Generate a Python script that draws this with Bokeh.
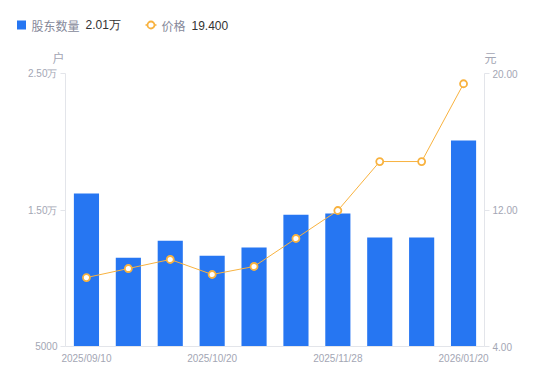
from bokeh.plotting import figure
from bokeh.models import (Range1d, LinearAxis, FixedTicker, Label, ColumnDataSource)
from bokeh.layouts import column
from bokeh.embed import file_html
from bokeh.resources import INLINE

dates = ["2025/09/10", "2025/09/19", "2025/09/30", "2025/10/20", "2025/10/31",
         "2025/11/10", "2025/11/28", "2025/12/10", "2025/12/31", "2026/01/20"]
holders = [16200, 11500, 12750, 11650, 12250, 14650, 14750, 12980, 12980, 20100]
prices = [8.04, 8.57, 9.10, 8.22, 8.69, 10.33, 11.97, 14.84, 14.84, 19.40]
left_ticks = [5000, 15000, 25000]
left_tick_labels = ["5000", "1.50万", "2.50万"]
right_ticks = [4, 12, 20]
right_tick_labels = ["4.00", "12.00", "20.00"]
shown_dates = [0, 3, 6, 9]
series_names = ["股东数量", "价格"]
units = ["户", "元"]

BAR = "#2676F2"
ORANGE = "#F8B23F"
TICK = "#A3A6B4"
AXIS = "#E3E5EA"
NAME = "#86899A"
VAL = "#333333"
NUM_FONT = "Liberation Sans"
CJK_FONT = "Noto Sans CJK SC"

W = 550
HEAD_H = 65

# ---------------- header (legend + unit titles) ----------------
h = figure(width=W, height=HEAD_H, output_backend="svg", toolbar_location=None,
           x_range=Range1d(0, W), y_range=Range1d(HEAD_H, 0),
           min_border=0, min_border_left=0, min_border_right=0,
           min_border_top=0, min_border_bottom=0)
h.frame_align = False
h.axis.visible = False
h.grid.visible = False
h.outline_line_color = None
h.background_fill_color = "white"
h.border_fill_color = "white"

def hlab(text, x, y, color, font, size="12px", align="left"):
    h.add_layout(Label(x=x, y=y, text=text, text_color=color, text_font=font,
                       text_font_size=size, text_align=align, text_baseline="middle"))

LY = 24.5
h.scatter(x=[21], y=[LY], marker="square", size=9, fill_color=BAR, line_color=None)
hlab(series_names[0], 31, LY, NAME, CJK_FONT)
hlab("%.2f万" % (holders[-1] / 10000), 85, LY, VAL, NUM_FONT)
h.line(x=[145, 156], y=[LY, LY], line_color=ORANGE, line_width=1.5)
h.scatter(x=[150.5], y=[LY], marker="circle", size=7, fill_color="white",
          line_color=ORANGE, line_width=1.8)
hlab(series_names[1], 161, LY, NAME, CJK_FONT)
hlab("%.3f" % prices[-1], 191, LY, VAL, NUM_FONT)
hlab(units[0], 58, 57, TICK, CJK_FONT, "12px", "center")
hlab(units[1], 490, 57, TICK, CJK_FONT, "12px", "center")

# ---------------- main chart ----------------
idx = list(range(len(dates)))
src = ColumnDataSource(dict(x=idx, h=holders, p=prices))

p = figure(width=W, height=381 - HEAD_H, output_backend="svg", toolbar_location=None,
           x_range=Range1d(-0.5, len(dates) - 0.5), y_range=Range1d(5000, 25000),
           min_border_left=65, min_border_right=66, min_border_top=8, min_border_bottom=35)
p.frame_align = False
p.outline_line_color = None
p.xgrid.visible = False
p.ygrid.visible = False
p.background_fill_color = "white"
p.border_fill_color = "white"

p.extra_y_ranges = {"price": Range1d(4, 20)}

p.vbar(x="x", top="h", bottom=5000, width=0.6, source=src, fill_color=BAR, line_color=None)
p.line(x="x", y="p", source=src, y_range_name="price", line_color=ORANGE, line_width=1)
p.scatter(x="x", y="p", source=src, y_range_name="price", size=7, marker="circle",
          fill_color="white", line_color=ORANGE, line_width=1.8)

xa = p.xaxis[0]
xa.ticker = FixedTicker(ticks=shown_dates)
xa.major_label_overrides = {i: dates[i] for i in shown_dates}
xa.major_tick_out = 0
xa.major_tick_in = 0
xa.minor_tick_out = 0
xa.minor_tick_in = 0
xa.axis_line_color = AXIS
xa.major_label_text_color = TICK
xa.major_label_text_font = NUM_FONT
xa.major_label_text_font_size = "10px"
xa.major_label_standoff = 6

def style_y(ax):
    ax.major_tick_out = 5
    ax.major_tick_in = 0
    ax.minor_tick_out = 0
    ax.minor_tick_in = 0
    ax.axis_line_color = AXIS
    ax.major_tick_line_color = AXIS
    ax.major_label_text_color = TICK
    ax.major_label_text_font = NUM_FONT
    ax.major_label_text_font_size = "10px"
    ax.major_label_standoff = 3

ya = p.yaxis[0]
ya.ticker = FixedTicker(ticks=left_ticks)
ya.major_label_overrides = {t: l for t, l in zip(left_ticks, left_tick_labels)}
style_y(ya)

ra = LinearAxis(y_range_name="price", ticker=FixedTicker(ticks=right_ticks))
ra.major_label_overrides = {t: l for t, l in zip(right_ticks, right_tick_labels)}
style_y(ra)
p.add_layout(ra, "right")

layout = column(h, p, spacing=0)
open("out.html", "w").write(file_html(layout, INLINE))
